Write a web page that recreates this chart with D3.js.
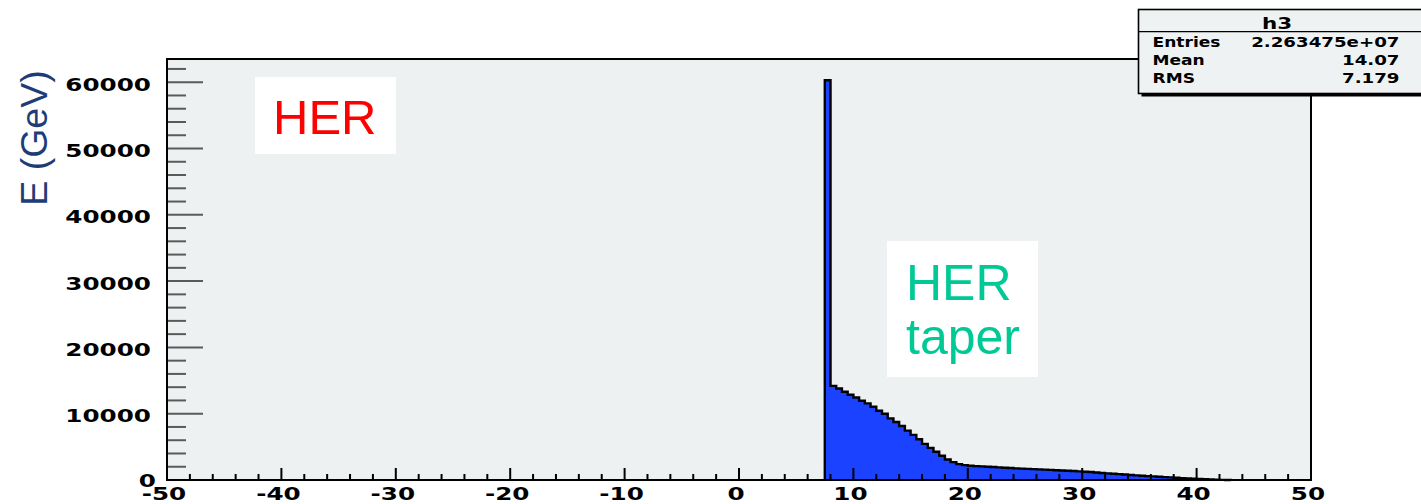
<!DOCTYPE html>
<html>
<head>
<meta charset="utf-8">
<script src="https://cdn.jsdelivr.net/npm/d3@7/dist/d3.min.js"></script>
<style>
  html, body { margin: 0; padding: 0; background: #ffffff; }
  svg { display: block; }
</style>
</head>
<body>
<script>
// ---- histogram h3 : energy per 0.5-wide bin (GeV) ----
const xDomain = [-50, 50];
const yDomain = [0, 63500];
const binStart = 7.5;
const binWidth = 0.5;
const binCounts = [
  60300, 14200, 13800, 13300, 12850, 12450, 11950, 11550, 11050, 10450,
  10000,  9300,  8750,  8150,  7450,  6800,  6150,  5450,  4850,  4250,
   3650,  3100,  2700,  2400,  2250,  2150,  2100,  2050,  2000,  1950,
   1900,  1850,  1800,  1760,  1720,  1680,  1640,  1600,  1560,  1520,
   1480,  1440,  1400,  1350,  1300,  1250,  1200,  1130,  1060,  1000,
    940,   880,   820,   760,   700,   640,   590,   540,   490,   440,
    390,   340,   290,   240,   200,   160,   120,    80,    50,    25,
     10
];

const yMajorTicks = [0, 10000, 20000, 30000, 40000, 50000, 60000];
const yMinorStep = 2000;
const xMajorTicks = [-50, -40, -30, -20, -10, 0, 10, 20, 30, 40, 50];
const xMinorStep = 2;

const yTitle = "E (GeV)";
const statsTitle = "h3";
const statsNames = ["Entries", "Mean", "RMS"];
const statsValues = ["2.263475e+07", "14.07", "7.179"];
const annotations = [
  { lines: ["HER"], color: "#ff0000" },
  { lines: ["HER", "taper"], color: "#00c995" }
];

// ---- layout ----
const W = 1421, H = 504;
const frame = { left: 167, right: 1311, top: 59, bottom: 480 };
const tickFont = "'DejaVu Sans', Verdana, sans-serif";
const stretch = 1.45;

const svg = d3.select("body").append("svg")
  .attr("width", W).attr("height", H)
  .attr("viewBox", `0 0 ${W} ${H}`);

const x = d3.scaleLinear().domain(xDomain).range([frame.left, frame.right]);
const y = d3.scaleLinear().domain(yDomain).range([frame.bottom, frame.top]);

// frame background
svg.append("rect")
  .attr("x", frame.left).attr("y", frame.top)
  .attr("width", frame.right - frame.left)
  .attr("height", frame.bottom - frame.top)
  .attr("fill", "#eef1f2");

// histogram outline points (step shape)
const pts = [[binStart, 0]];
binCounts.forEach((c, i) => {
  const x0 = binStart + i * binWidth;
  pts.push([x0, c], [x0 + binWidth, c]);
});
pts.push([binStart + binCounts.length * binWidth, 0]);

const line = d3.line().x(d => x(d[0])).y(d => y(d[1]));

svg.append("path")
  .attr("d", line(pts) + "Z")
  .attr("fill", "#1a42ff")
  .attr("stroke", "none");

svg.append("path")
  .attr("d", line(pts))
  .attr("fill", "none")
  .attr("stroke", "#000")
  .attr("stroke-width", 2.4)
  .attr("stroke-linejoin", "miter");

// y ticks (inside the frame)
const yAll = d3.range(0, yDomain[1] + 1, yMinorStep);
svg.append("g").selectAll("line").data(yAll).join("line")
  .attr("x1", frame.left)
  .attr("x2", d => frame.left + (d % 10000 === 0 ? 36 : 19))
  .attr("y1", d => y(d)).attr("y2", d => y(d))
  .attr("stroke", "#5a5a5a").attr("stroke-width", 2);

// x ticks (inside the frame)
const xAll = d3.range(xDomain[0], xDomain[1] + 0.001, xMinorStep);
svg.append("g").selectAll("line").data(xAll).join("line")
  .attr("x1", d => x(d)).attr("x2", d => x(d))
  .attr("y1", frame.bottom)
  .attr("y2", d => frame.bottom - (d % 10 === 0 ? 12 : 6))
  .attr("stroke", "#000").attr("stroke-width", 2);

// frame border
svg.append("rect")
  .attr("x", frame.left).attr("y", frame.top)
  .attr("width", frame.right - frame.left)
  .attr("height", frame.bottom - frame.top)
  .attr("fill", "none").attr("stroke", "#000").attr("stroke-width", 2);

// stretched bold text helper
function wideText(g, tx, ty, str, size, anchor, sx, color) {
  return g.append("text")
    .attr("transform", `translate(${tx},${ty}) scale(${sx},1)`)
    .attr("text-anchor", anchor)
    .attr("font-family", tickFont)
    .attr("font-weight", "bold")
    .attr("font-size", size)
    .attr("fill", color || "#000")
    .text(str);
}

// y tick labels
const gyl = svg.append("g");
yMajorTicks.forEach(v => {
  wideText(gyl, v === 0 ? 156 : 151, v === 0 ? y(v) + 7 : y(v) + 8.5,
           d3.format("d")(v), 17, "end", stretch);
});

// x tick labels
const gxl = svg.append("g");
xMajorTicks.forEach(v => {
  wideText(gxl, x(v) - 3, 500, String(v), 17, "middle", stretch);
});

// y axis title
svg.append("text")
  .attr("transform", `translate(47,138) rotate(-90)`)
  .attr("text-anchor", "middle")
  .attr("font-family", "'Liberation Sans', Arial, sans-serif")
  .attr("font-size", 37.5)
  .attr("fill", "#1d3c78")
  .text(yTitle);

// annotation boxes
const boxes = [
  { x: 255, y: 77, w: 141, h: 77, tx: 273, base: [133.5], size: 49 },
  { x: 887, y: 241, w: 151, h: 136, tx: 906, base: [299.5, 353.5], size: 50 }
];
annotations.forEach((a, i) => {
  const b = boxes[i];
  svg.append("rect").attr("x", b.x).attr("y", b.y)
    .attr("width", b.w).attr("height", b.h).attr("fill", "#ffffff");
  a.lines.forEach((ln, j) => {
    svg.append("text")
      .attr("x", b.tx).attr("y", b.base[j])
      .attr("font-family", "'Liberation Sans', Arial, sans-serif")
      .attr("font-size", b.size)
      .attr("fill", a.color)
      .text(ln);
  });
});

// statistics box
const sb = { x: 1138.5, y: 9.5, w: 300, h: 84 };
const gs = svg.append("g");
gs.append("rect").attr("x", sb.x + 3).attr("y", sb.y + sb.h - 1)
  .attr("width", sb.w).attr("height", 4).attr("fill", "#000");
gs.append("rect").attr("x", sb.x).attr("y", sb.y)
  .attr("width", sb.w).attr("height", sb.h)
  .attr("fill", "#eff2f2").attr("stroke", "#000").attr("stroke-width", 1.6);
gs.append("line").attr("x1", sb.x).attr("x2", sb.x + sb.w)
  .attr("y1", 31.7).attr("y2", 31.7)
  .attr("stroke", "#000").attr("stroke-width", 1.2);
wideText(gs, 1277, 28.5, statsTitle, 16.5, "middle", 1.3);
const rowBase = [47, 65.3, 83];
statsNames.forEach((n, i) => {
  wideText(gs, 1152.5, rowBase[i], n, 14, "start", 1.22);
  wideText(gs, 1399.5, rowBase[i], statsValues[i], 14, "end", 1.3);
});
</script>
</body>
</html>
